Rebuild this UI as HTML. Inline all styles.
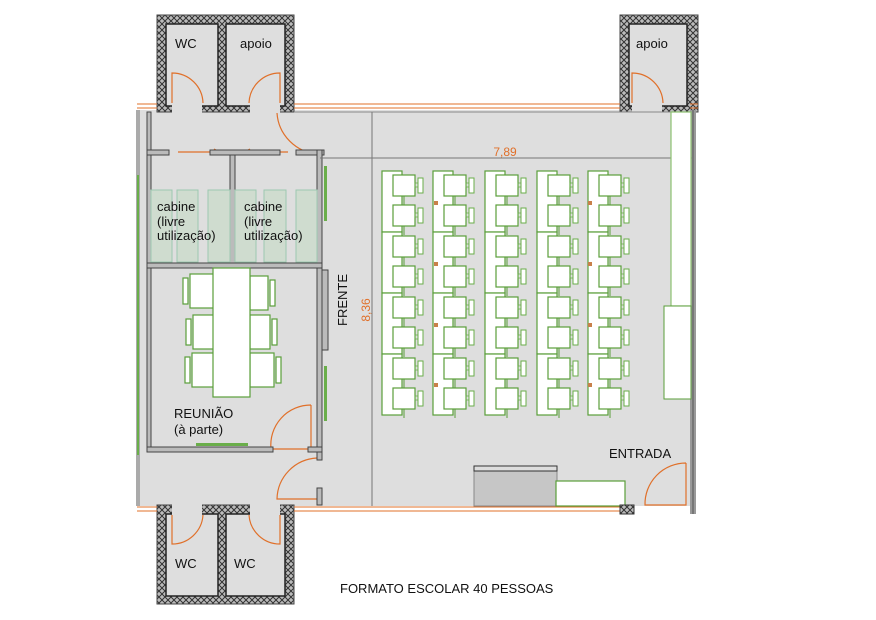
<!DOCTYPE html>
<html><head><meta charset="utf-8"><style>
html,body{margin:0;padding:0;background:#fff;width:876px;height:620px;overflow:hidden}
svg{display:block}
text{font-family:"Liberation Sans",sans-serif;}
</style></head><body>
<svg width="876" height="620" viewBox="0 0 876 620" xmlns="http://www.w3.org/2000/svg">
<defs>
<pattern id="h" width="6" height="6" patternUnits="userSpaceOnUse">
<rect width="6" height="6" fill="#bbb"/>
<path d="M0,0L6,6M6,0L0,6" stroke="#333" stroke-width="1"/>
</pattern>
<g id="desk">
<rect x="11" y="0" width="22" height="21" fill="#fff" stroke="#5a9e3a" stroke-width="1.2"/>
<rect x="36" y="3" width="5" height="15" fill="#fff" stroke="#6aae4a" stroke-width="1"/>
<rect x="33" y="8" width="3" height="4" fill="none" stroke="#6aae4a" stroke-width="0.8"/>
<line x1="22" y1="21" x2="22" y2="30" stroke="#5a9e3a" stroke-width="1"/>
</g>
<g id="bench">
<rect x="0" y="0" width="20" height="61" fill="#fff" stroke="#5a9e3a" stroke-width="1.2"/>
</g>
</defs>

<rect x="140" y="110" width="552" height="396" fill="#dedede"/>
<rect x="157" y="15" width="137" height="97" fill="url(#h)" stroke="#444"/>
<rect x="166" y="24" width="52" height="82" fill="#dedede" stroke="#222" stroke-width="1.5"/>
<rect x="226" y="24" width="59" height="82" fill="#dedede" stroke="#222" stroke-width="1.5"/>
<rect x="620" y="15" width="78" height="97" fill="url(#h)" stroke="#444"/>
<rect x="629" y="24" width="58" height="82" fill="#dedede" stroke="#222" stroke-width="1.5"/>
<rect x="157" y="505" width="137" height="99" fill="url(#h)" stroke="#444"/>
<rect x="166" y="514" width="52" height="82" fill="#dedede" stroke="#222" stroke-width="1.5"/>
<rect x="226" y="514" width="59" height="82" fill="#dedede" stroke="#222" stroke-width="1.5"/>
<rect x="172" y="100" width="30" height="14" fill="#dedede"/>
<rect x="250" y="100" width="30" height="14" fill="#dedede"/>
<rect x="632" y="100" width="30" height="14" fill="#dedede"/>
<rect x="172" y="502" width="30" height="14" fill="#dedede"/>
<rect x="250" y="502" width="30" height="14" fill="#dedede"/>
<g fill="none" stroke="#e0702a" stroke-width="1.2">
<path d="M172,103V73A31,31 0 0 1 203,103"/>
<path d="M280,103V73A31,31 0 0 0 249,103"/>
<path d="M632,103V73A31,31 0 0 1 663,103"/>
<path d="M172,515V544A31,31 0 0 0 203,515"/>
<path d="M280,515V544A31,31 0 0 1 249,515"/>
<path d="M277,113A44,44 0 0 0 318,154"/>
<path d="M311,405V449H271A40,40 0 0 1 311,405"/>
<path d="M317,458A42,42 0 0 0 277,499H317"/>
<path d="M686,463V505H645A41,41 0 0 1 686,463"/>
<path d="M178,152H220M214,149L220,152L214,155"/>
<path d="M244,152H288M250,149L244,152L250,155"/>
</g>
<g stroke="#e0702a" stroke-width="1" fill="none">
<path d="M137,104H157M294,104H620M690,104H698M137,108H157M294,108H620M690,108H698"/>
<path d="M137,507H157M294,507H632M137,511H157M294,511H632"/>
</g>
<line x1="294" y1="112" x2="692" y2="112" stroke="#888"/>
<rect x="136" y="110" width="4" height="396" fill="#aaa"/>
<rect x="690" y="110" width="6" height="404" fill="#999"/>
<line x1="693" y1="110" x2="693" y2="514" stroke="#555"/>
<g fill="#bbb" stroke="#444" stroke-width="1">
<rect x="147" y="112" width="4" height="38"/>
<rect x="147" y="150" width="22" height="5"/>
<rect x="210" y="150" width="70" height="5"/>
<rect x="296" y="150" width="28" height="5"/>
<rect x="317" y="150" width="5" height="310"/>
<rect x="230" y="155" width="5" height="108"/>
<rect x="147" y="155" width="4" height="112"/>
<rect x="147" y="263" width="175" height="5"/>
<rect x="147" y="268" width="4" height="184"/>
<rect x="147" y="447" width="126" height="5"/>
<rect x="308" y="447" width="14" height="5"/>
<rect x="317" y="488" width="5" height="17"/>
<rect x="322" y="270" width="6" height="80"/>
</g>
<g fill="#cfdccf" stroke="#9cc8b0" stroke-width="1">
<rect x="151" y="190" width="21" height="72"/><rect x="177" y="190" width="21" height="72"/><rect x="208" y="190" width="22" height="72"/>
<rect x="235" y="190" width="21" height="72"/><rect x="264" y="190" width="22" height="72"/><rect x="296" y="190" width="21" height="72"/>
</g>
<g fill="#6aae4a">
<rect x="324" y="166" width="3" height="55"/><rect x="324" y="366" width="3" height="55"/>
<rect x="196" y="443" width="52" height="3"/>
<rect x="137" y="175" width="2" height="280"/>
</g>
<g fill="#fff" stroke="#5a9e3a" stroke-width="1.2">
<rect x="190" y="274" width="24" height="34"/><rect x="193" y="315" width="21" height="34"/><rect x="192" y="353" width="22" height="34"/>
<rect x="250" y="276" width="18" height="34"/><rect x="250" y="315" width="20" height="34"/><rect x="250" y="353" width="24" height="34"/>
<rect x="183" y="278" width="5" height="26"/><rect x="186" y="319" width="5" height="26"/><rect x="185" y="357" width="5" height="26"/>
<rect x="270" y="280" width="5" height="26"/><rect x="272" y="319" width="5" height="26"/><rect x="276" y="357" width="5" height="26"/>
<rect x="213" y="268" width="37" height="129"/>
</g>
<g stroke="#777" stroke-width="1">
<line x1="320" y1="158" x2="692" y2="158"/>
<line x1="372" y1="112" x2="372" y2="506"/>
</g>
<text x="505" y="156" font-size="12" fill="#e0702a" text-anchor="middle">7,89</text>
<text transform="translate(370,310) rotate(-90)" font-size="12" fill="#e0702a" text-anchor="middle">8,36</text>
<text transform="translate(347,300) rotate(-90)" font-size="13" fill="#111" text-anchor="middle">FRENTE</text>
<g>
<use href="#bench" x="382" y="171"/><use href="#bench" x="382" y="232"/><use href="#bench" x="382" y="293"/><use href="#bench" x="382" y="354"/>
<use href="#bench" x="433" y="171"/><use href="#bench" x="433" y="232"/><use href="#bench" x="433" y="293"/><use href="#bench" x="433" y="354"/>
<use href="#bench" x="485" y="171"/><use href="#bench" x="485" y="232"/><use href="#bench" x="485" y="293"/><use href="#bench" x="485" y="354"/>
<use href="#bench" x="537" y="171"/><use href="#bench" x="537" y="232"/><use href="#bench" x="537" y="293"/><use href="#bench" x="537" y="354"/>
<use href="#bench" x="588" y="171"/><use href="#bench" x="588" y="232"/><use href="#bench" x="588" y="293"/><use href="#bench" x="588" y="354"/>
</g>
<g>
<use href="#desk" x="382" y="175"/><use href="#desk" x="382" y="205"/><use href="#desk" x="382" y="236"/><use href="#desk" x="382" y="266"/><use href="#desk" x="382" y="297"/><use href="#desk" x="382" y="327"/><use href="#desk" x="382" y="358"/><use href="#desk" x="382" y="388"/>
<use href="#desk" x="433" y="175"/><use href="#desk" x="433" y="205"/><use href="#desk" x="433" y="236"/><use href="#desk" x="433" y="266"/><use href="#desk" x="433" y="297"/><use href="#desk" x="433" y="327"/><use href="#desk" x="433" y="358"/><use href="#desk" x="433" y="388"/>
<use href="#desk" x="485" y="175"/><use href="#desk" x="485" y="205"/><use href="#desk" x="485" y="236"/><use href="#desk" x="485" y="266"/><use href="#desk" x="485" y="297"/><use href="#desk" x="485" y="327"/><use href="#desk" x="485" y="358"/><use href="#desk" x="485" y="388"/>
<use href="#desk" x="537" y="175"/><use href="#desk" x="537" y="205"/><use href="#desk" x="537" y="236"/><use href="#desk" x="537" y="266"/><use href="#desk" x="537" y="297"/><use href="#desk" x="537" y="327"/><use href="#desk" x="537" y="358"/><use href="#desk" x="537" y="388"/>
<use href="#desk" x="588" y="175"/><use href="#desk" x="588" y="205"/><use href="#desk" x="588" y="236"/><use href="#desk" x="588" y="266"/><use href="#desk" x="588" y="297"/><use href="#desk" x="588" y="327"/><use href="#desk" x="588" y="358"/><use href="#desk" x="588" y="388"/>
</g>
<g fill="#c8804a"><rect x="434" y="201" width="4" height="4"/><rect x="588" y="201" width="4" height="4"/><rect x="434" y="262" width="4" height="4"/><rect x="588" y="262" width="4" height="4"/><rect x="434" y="323" width="4" height="4"/><rect x="588" y="323" width="4" height="4"/><rect x="434" y="383" width="4" height="4"/><rect x="588" y="383" width="4" height="4"/></g>
<rect x="671" y="112" width="20" height="194" fill="#fff" stroke="#8cc070" stroke-width="1.2"/>
<rect x="664" y="306" width="27" height="93" fill="#fff" stroke="#5a9e3a" stroke-width="1"/>
<rect x="474" y="466" width="83" height="40" fill="#c6c6c6" stroke="#888"/>
<rect x="474" y="466" width="83" height="5" fill="#ddd" stroke="#333"/>
<rect x="556" y="481" width="69" height="25" fill="#fff" stroke="#5a9e3a" stroke-width="1.2"/>
<rect x="620" y="505" width="14" height="9" fill="url(#h)" stroke="#333"/>
<g font-size="13" fill="#111">
<text x="175" y="48">WC</text><text x="240" y="48">apoio</text><text x="636" y="48">apoio</text>
<text x="157" y="211">cabine</text><text x="157" y="226">(livre</text><text x="157" y="240">utilização)</text>
<text x="244" y="211">cabine</text><text x="244" y="226">(livre</text><text x="244" y="240">utilização)</text>
<text x="174" y="418">REUNIÃO</text><text x="174" y="434">(à parte)</text>
<text x="609" y="458">ENTRADA</text>
<text x="175" y="568">WC</text><text x="234" y="568">WC</text>
<text x="340" y="593">FORMATO ESCOLAR 40 PESSOAS</text>
</g>
</svg>
</body></html>
